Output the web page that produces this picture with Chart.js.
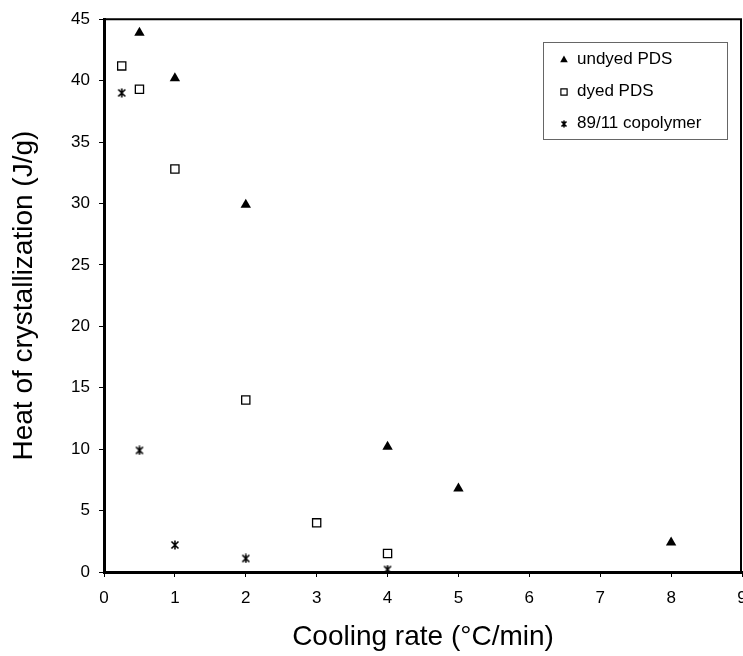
<!DOCTYPE html>
<html>
<head>
<meta charset="utf-8">
<script src="https://cdn.jsdelivr.net/npm/chart.js@4.4.1/dist/chart.umd.min.js"></script>
<style>
    html, body { margin: 0; padding: 0; background: #fff; }
    #wrap { width: 743px; height: 656px; }
</style>
</head>
<body>
<div id="wrap"><canvas id="chart"></canvas></div>
<script>
// cooling rate (°C/min) vs heat of crystallization (J/g)
const rateUndyed = [0.5, 1, 2, 4, 5, 8];
const heatUndyed = [43.9, 40.2, 29.9, 10.2, 6.8, 2.4];

const rateDyed = [0.25, 0.5, 1, 2, 3, 4];
const heatDyed = [41.2, 39.3, 32.8, 14.0, 4.0, 1.5];

const rateCopolymer = [0.25, 0.5, 1, 2, 4];
const heatCopolymer = [39.0, 9.9, 2.2, 1.1, 0.2];

const seriesLabels = ['undyed PDS', 'dyed PDS', '89/11 copolymer'];

const FONT = "'Liberation Sans', Arial, sans-serif";

function toPoints(xs, ys) {
    return xs.map(function (x, i) { return {x: x, y: ys[i]}; });
}

// excel style asterisk: two diagonals and a vertical stroke
function asteriskMarker(size) {
    const c = document.createElement('canvas');
    c.width = size;
    c.height = size;
    const g = c.getContext('2d');
    const m = 1.5;
    g.strokeStyle = '#000';
    g.lineWidth = 1.6;
    g.beginPath();
    g.moveTo(m, m); g.lineTo(size - m, size - m);
    g.moveTo(size - m, m); g.lineTo(m, size - m);
    g.moveTo(size / 2, 0.5); g.lineTo(size / 2, size - 0.5);
    g.stroke();
    return c;
}

const starBig = asteriskMarker(10);
const starSmall = asteriskMarker(8);

// top and right frame lines
const framePlugin = {
    id: 'frame',
    afterDraw: function (chart) {
        const a = chart.chartArea;
        const ctx = chart.ctx;
        ctx.save();
        ctx.strokeStyle = '#000';
        ctx.lineWidth = 2;
        ctx.beginPath();
        ctx.moveTo(a.left, a.top);
        ctx.lineTo(a.right - 1, a.top);
        ctx.lineTo(a.right - 1, a.bottom);
        ctx.stroke();
        ctx.restore();
    }
};

// boxed legend inside the plot, top right
const boxLegend = {
    id: 'boxLegend',
    afterDraw: function (chart) {
        const ctx = chart.ctx;
        const box = {left: 543.5, top: 42.5, right: 727.5, bottom: 139.5};
        ctx.save();
        ctx.fillStyle = '#fff';
        ctx.fillRect(box.left, box.top, box.right - box.left, box.bottom - box.top);
        ctx.strokeStyle = '#666';
        ctx.lineWidth = 1;
        ctx.strokeRect(box.left, box.top, box.right - box.left, box.bottom - box.top);
        ctx.font = '17px ' + FONT;
        ctx.textBaseline = 'middle';
        ctx.textAlign = 'left';
        chart.data.datasets.forEach(function (ds, i) {
            const y = 59 + i * 32;
            const style = ds.legendStyle;
            ctx.fillStyle = ds.backgroundColor;
            ctx.strokeStyle = '#000';
            ctx.lineWidth = 1.2;
            Chart.helpers.drawPoint(ctx, {
                pointStyle: style,
                radius: 4.4,
                rotation: 0,
                borderWidth: ds.pointBorderWidth
            }, 564, y + 1);
            ctx.fillStyle = '#000';
            ctx.fillText(ds.label, 577, y);
        });
        ctx.restore();
    }
};

const ctx = document.getElementById('chart');
new Chart(ctx, {
    type: 'scatter',
    data: {
        datasets: [{
            label: seriesLabels[0],
            data: toPoints(rateUndyed, heatUndyed),
            pointStyle: 'triangle',
            legendStyle: 'triangle',
            pointRadius: 6,
            backgroundColor: '#000',
            borderColor: '#000',
            pointBorderWidth: 0
        }, {
            label: seriesLabels[1],
            data: toPoints(rateDyed, heatDyed),
            pointStyle: 'rect',
            legendStyle: 'rect',
            pointRadius: 5.8,
            backgroundColor: '#fff',
            borderColor: '#000',
            pointBorderWidth: 1.3
        }, {
            label: seriesLabels[2],
            data: toPoints(rateCopolymer, heatCopolymer),
            pointStyle: starBig,
            legendStyle: starSmall,
            pointRadius: 5,
            backgroundColor: '#000',
            borderColor: '#000',
            pointBorderWidth: 0
        }]
    },
    options: {
        responsive: true,
        maintainAspectRatio: false,
        animation: false,
        layout: {
            autoPadding: false,
            padding: {top: 19, right: 1, left: 0, bottom: 0}
        },
        plugins: {
            legend: {display: false},
            tooltip: {enabled: false}
        },
        scales: {
            x: {
                type: 'linear',
                min: 0,
                max: 9,
                afterFit: function (scale) {
                    scale.height = 84;
                    scale.paddingRight = 0;
                },
                border: {color: '#000', width: 3},
                grid: {
                    drawOnChartArea: false,
                    drawTicks: true,
                    tickLength: 5,
                    color: '#000',
                    lineWidth: 1
                },
                ticks: {
                    stepSize: 1,
                    padding: 11,
                    color: '#000',
                    maxRotation: 0,
                    font: {family: FONT, size: 17}
                },
                title: {
                    display: true,
                    text: 'Cooling rate (°C/min)',
                    color: '#000',
                    padding: {top: 0, bottom: 2},
                    font: {family: FONT, size: 28}
                }
            },
            y: {
                type: 'linear',
                min: 0,
                max: 45,
                afterFit: function (scale) {
                    scale.width = 104;
                },
                border: {color: '#000', width: 3},
                grid: {
                    drawOnChartArea: false,
                    drawTicks: true,
                    tickLength: 5,
                    color: '#000',
                    lineWidth: 1
                },
                ticks: {
                    stepSize: 5,
                    padding: 9,
                    color: '#000',
                    font: {family: FONT, size: 17}
                },
                title: {
                    display: true,
                    text: 'Heat of crystallization (J/g)',
                    color: '#000',
                    padding: {top: 7, bottom: 0},
                    font: {family: FONT, size: 28}
                }
            }
        }
    },
    plugins: [framePlugin, boxLegend]
});
</script>
</body>
</html>
